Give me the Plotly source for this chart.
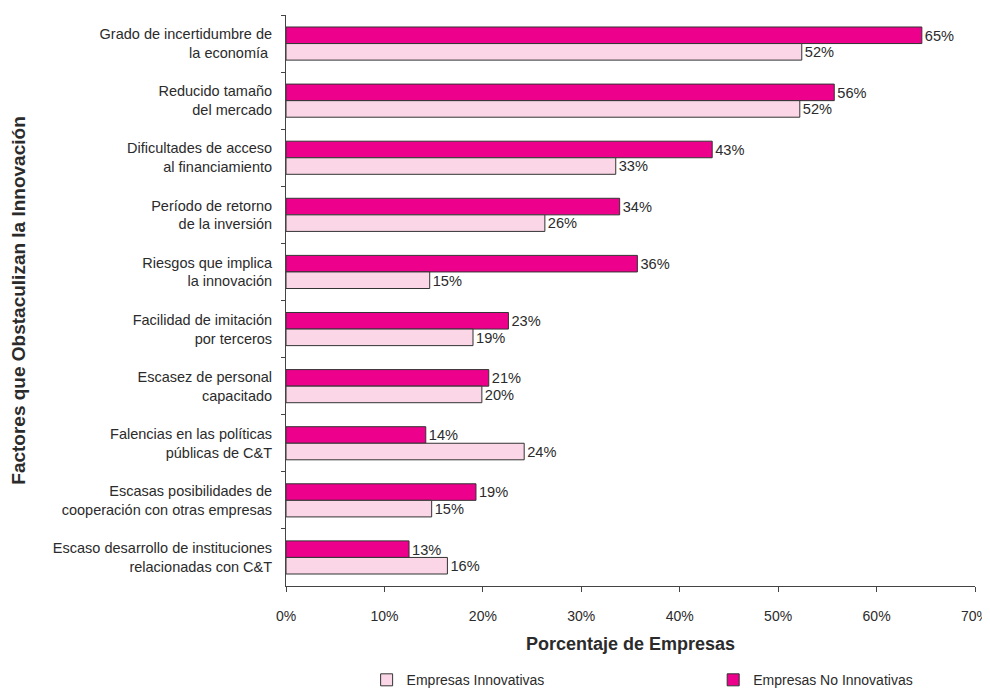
import plotly.graph_objects as go

categories = [
    "Grado de incertidumbre de<br>la economía ",
    "Reducido tamaño<br>del mercado",
    "Dificultades de acceso<br>al financiamiento",
    "Período de retorno<br>de la inversión",
    "Riesgos que implica<br>la innovación",
    "Facilidad de imitación<br>por terceros",
    "Escasez de personal<br>capacitado",
    "Falencias en las políticas<br>públicas de C&T",
    "Escasas posibilidades de<br>cooperación con otras empresas",
    "Escaso desarrollo de instituciones<br>relacionadas con C&T",
]
no_innov_values = [64.6, 55.7, 43.3, 33.9, 35.7, 22.6, 20.6, 14.2, 19.3, 12.5]
no_innov_labels = [65, 56, 43, 34, 36, 23, 21, 14, 19, 13]
innov_values = [52.4, 52.2, 33.5, 26.3, 14.6, 19.0, 19.9, 24.2, 14.8, 16.4]
innov_labels = [52, 52, 33, 26, 15, 19, 20, 24, 15, 16]
x_ticks = [0, 10, 20, 30, 40, 50, 60, 70]
x_tick_labels = ["0%", "10%", "20%", "30%", "40%", "50%", "60%", "70%"]

FONT = "Liberation Sans, Arial, sans-serif"
TXT = "#2b2b2b"

fig = go.Figure()
fig.add_trace(go.Bar(
    y=categories, x=no_innov_values, orientation="h",
    name="Empresas No Innovativas", legend="legend2",
    marker=dict(color="#EC008C", line=dict(color="#333333", width=1)),
    text=[f"{v}%" for v in no_innov_labels], textposition="outside",
    textfont=dict(family=FONT, size=15, color=TXT), cliponaxis=False,
))
fig.add_trace(go.Bar(
    y=categories, x=innov_values, orientation="h",
    name="Empresas Innovativas", legend="legend",
    marker=dict(color="#FAD6E6", line=dict(color="#333333", width=1)),
    text=[f"{v}%" for v in innov_labels], textposition="outside",
    textfont=dict(family=FONT, size=15, color=TXT), cliponaxis=False,
))

leg_common = dict(
    orientation="h", yanchor="middle", y=-0.165,
    font=dict(family=FONT, size=14, color=TXT),
    bgcolor="rgba(0,0,0,0)",
)

fig.update_layout(
    width=982, height=680,
    margin=dict(l=278, r=15, t=7, b=102, autoexpand=False),
    paper_bgcolor="white", plot_bgcolor="white",
    barmode="group", bargap=0.42, bargroupgap=0,
    font=dict(family=FONT, size=14, color=TXT),
    showlegend=True,
    legend=dict(x=0.117, xanchor="left", **leg_common),
    legend2=dict(x=0.620, xanchor="left", **leg_common),
    xaxis=dict(
        range=[0, 70], tickvals=x_ticks, ticktext=x_tick_labels,
        showgrid=False, zeroline=False,
        showline=True, linecolor="#444444", linewidth=1,
        ticks="outside", ticklen=5, tickcolor="#444444",
        ticklabelstandoff=12, ticklabeloverflow="allow",
        tickfont=dict(family=FONT, size=14, color=TXT),
        title=dict(text="<b>Porcentaje de Empresas</b>", standoff=14,
                   font=dict(family=FONT, size=18, color=TXT)),
    ),
    yaxis=dict(
        autorange="reversed", type="category",
        showgrid=False, zeroline=False,
        showline=True, linecolor="#444444", linewidth=1,
        ticks="outside", ticklen=4, tickcolor="#444444",
        tickson="boundaries",
        ticklabelstandoff=10,
        tickfont=dict(family=FONT, size=14.5, color=TXT),
        title=dict(text="<b>Factores que Obstaculizan la Innovación</b>",
                   standoff=35,
                   font=dict(family=FONT, size=19, color=TXT)),
    ),
)

fig.write_html("out.html")
